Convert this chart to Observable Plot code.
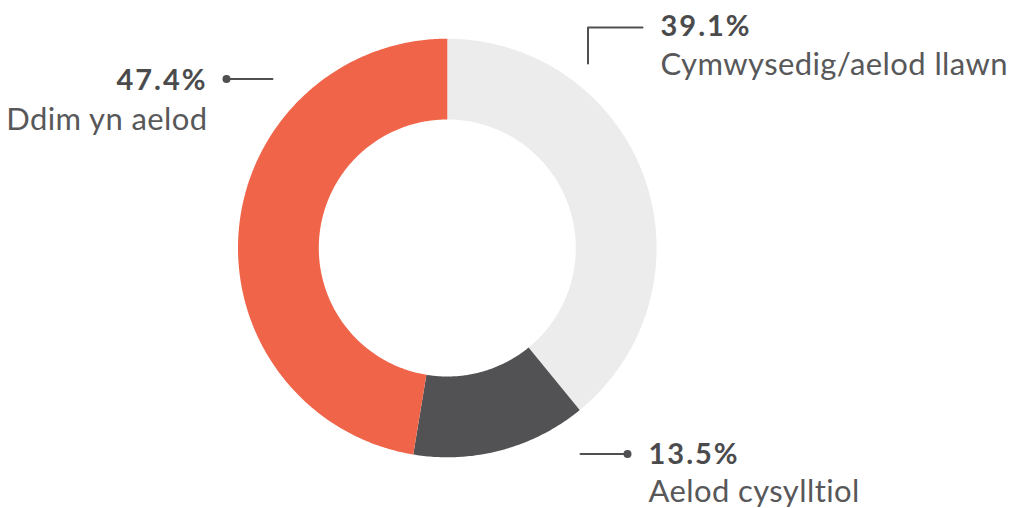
<!DOCTYPE html>
<html>
<head>
<meta charset="utf-8">
<script src="https://cdn.jsdelivr.net/npm/d3@7"></script>
<script src="https://cdn.jsdelivr.net/npm/@observablehq/plot@0.6"></script>
<style>
  html, body { margin: 0; padding: 0; background: #fff; }
  #chart svg { display: block; }
  #chart svg g[font-weight="bold"] text { letter-spacing: 2px; }
  #chart svg g[font-size="31"] text { letter-spacing: 0.4px; }
</style>
</head>
<body>
<div id="chart"></div>
<script>
// ---- data ----
const categories = ["Cymwysedig/aelod llawn", "Aelod cysylltiol", "Ddim yn aelod"];
const values = [39.1, 13.5, 47.4];
const percentLabels = ["39.1%", "13.5%", "47.4%"];
const colors = ["#ececec", "#525254", "#f0644a"];

// ---- layout ----
const W = 1015, H = 508;
const cx = 446.8, cy = 247.5, rOuter = 209.3, rInner = 128.5;

const pie = d3.pie().sort(null).value(d => d.value);
const arcs = pie(categories.map((c, i) => ({cat: c, value: values[i]})));

const pts = [];
arcs.forEach(a => {
  const n = Math.max(8, Math.ceil((a.endAngle - a.startAngle) / 0.01));
  for (let k = 0; k <= n; k++) {
    const t = a.startAngle + (a.endAngle - a.startAngle) * k / n;
    pts.push({cat: a.data.cat, x: cx + rOuter * Math.sin(t), y: cy - rOuter * Math.cos(t)});
  }
  for (let k = n; k >= 0; k--) {
    const t = a.startAngle + (a.endAngle - a.startAngle) * k / n;
    pts.push({cat: a.data.cat, x: cx + rInner * Math.sin(t), y: cy - rInner * Math.cos(t)});
  }
});

// annotation layout (label anchors)
const annots = [
  {cat: categories[0], pct: percentLabels[0], tx: 660, py: 35, ly: 74, anchor: "start",
   path: [[587.5, 63], [587.5, 27], [642, 27]], dot: null},
  {cat: categories[1], pct: percentLabels[1], tx: 648, py: 463, ly: 501, anchor: "start",
   path: [[580, 453.5], [627, 453.5]], dot: [627, 453.5]},
  {cat: categories[2], pct: percentLabels[2], tx: 207, py: 89, ly: 129, anchor: "end",
   path: [[226, 78.5], [272, 78.5]], dot: [226, 78.5]}
];
const leaderPts = annots.flatMap((a, i) => a.path.map(p => ({id: i, x: p[0], y: p[1]})));
const dots = annots.filter(a => a.dot).map(a => ({x: a.dot[0], y: a.dot[1]}));

const pctStyle = {fontSize: 29, fontWeight: "bold", fill: "#4b4b4d"};
const labStyle = {fontSize: 31, fill: "#58585a"};

const chart = Plot.plot({
  width: W,
  height: H,
  margin: 0,
  x: {domain: [0, W], range: [0, W], axis: null},
  y: {domain: [0, H], range: [0, H], axis: null},
  color: {domain: categories, range: colors},
  style: {fontFamily: "Lato, sans-serif", background: "#fff"},
  marks: [
    Plot.line(pts, {x: "x", y: "y", z: "cat", fill: "cat", stroke: null, curve: "linear-closed"}),
    Plot.line(leaderPts, {x: "x", y: "y", z: "id", stroke: "#505052", strokeWidth: 2}),
    Plot.dot(dots, {x: "x", y: "y", r: 4, fill: "#505052"}),
    Plot.text(annots, {x: "tx", y: "py", text: "pct", lineAnchor: "bottom", textAnchor: "start",
      filter: d => d.anchor === "start", ...pctStyle}),
    Plot.text(annots, {x: "tx", y: "py", text: "pct", lineAnchor: "bottom", textAnchor: "end",
      filter: d => d.anchor === "end", ...pctStyle}),
    Plot.text(annots, {x: "tx", y: "ly", text: "cat", lineAnchor: "bottom", textAnchor: "start",
      filter: d => d.anchor === "start", ...labStyle}),
    Plot.text(annots, {x: "tx", y: "ly", text: "cat", lineAnchor: "bottom", textAnchor: "end",
      filter: d => d.anchor === "end", ...labStyle})
  ]
});
document.getElementById("chart").appendChild(chart);
</script>
</body>
</html>
